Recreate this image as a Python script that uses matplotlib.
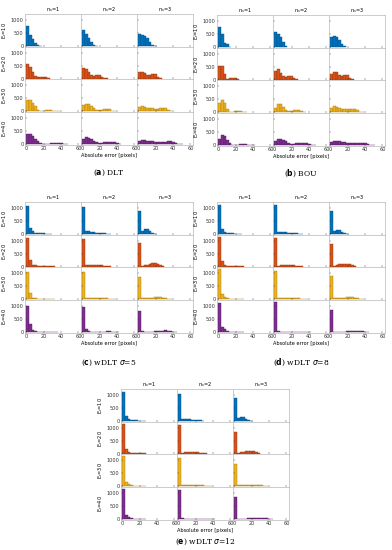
import matplotlib
matplotlib.use("Agg")
from matplotlib import pyplot as plt

# histogram counts, bins of 3 pixels starting at 0
bin_width = 3
noise_levels = ["10", "20", "30", "40"]
samples = ["1", "2", "3"]
colors = ["#0072BD", "#D95319", "#EDB120", "#7E2F8E"]
edges = ["#0a4f80", "#8f3510", "#a87a10", "#52195c"]

dlt = [
    [[780, 430, 280, 110, 20, 5],
     [600, 470, 300, 140, 40, 5],
     [450, 410, 370, 300, 150, 30, 5]],
    [[560, 460, 240, 90, 60, 50, 70, 50, 10],
     [400, 380, 250, 130, 110, 150, 150, 80, 20, 5],
     [250, 270, 220, 150, 150, 170, 190, 60, 10]],
    [[440, 430, 330, 200, 70, 30, 30, 40, 50, 40, 30, 10, 5],
     [260, 290, 270, 200, 120, 60, 50, 70, 90, 100, 80, 30, 10],
     [170, 210, 170, 140, 130, 120, 100, 100, 120, 130, 110, 40, 10]],
    [[370, 380, 320, 200, 100, 40, 20, 20, 20, 40, 50, 30, 25, 30, 20, 5],
     [200, 260, 230, 180, 130, 80, 50, 50, 60, 80, 90, 70, 60, 30, 10],
     [110, 170, 160, 130, 120, 100, 80, 70, 70, 80, 90, 100, 100, 90, 50, 20, 5]],
]

bou = [
    [[760, 500, 160, 100, 10],
     [560, 500, 380, 200, 30],
     [400, 440, 380, 260, 120, 20]],
    [[540, 540, 200, 40, 50, 70, 60, 20],
     [350, 400, 250, 130, 100, 140, 150, 80, 10],
     [220, 300, 280, 180, 150, 170, 180, 80, 10]],
    [[340, 480, 360, 140, 30, 20, 40, 60, 50, 30, 10],
     [180, 330, 320, 200, 80, 50, 70, 90, 100, 80, 40, 10],
     [150, 250, 220, 170, 140, 120, 110, 120, 130, 120, 90, 30, 10]],
    [[250, 380, 330, 200, 80, 20, 10, 20, 30, 40, 30, 20, 20, 10],
     [150, 230, 240, 210, 150, 80, 50, 50, 60, 70, 80, 70, 60, 40, 20, 5],
     [100, 160, 170, 150, 130, 100, 80, 60, 60, 70, 80, 90, 90, 80, 50, 20, 5]],
]

wdlt5 = [
    [[1080, 230, 100, 50, 40, 30, 20, 15, 10, 5],
     [1050, 120, 100, 80, 60, 50, 40, 30, 20, 10, 5],
     [880, 100, 200, 180, 100, 40, 10]],
    [[1100, 260, 80, 50, 40, 30, 30, 20, 15, 10, 5],
     [1050, 60, 60, 60, 60, 80, 70, 50, 30, 20, 10],
     [900, 40, 60, 80, 100, 130, 130, 110, 60, 20]],
    [[1050, 250, 60, 40, 30, 20, 20, 15, 10, 10, 5],
     [1050, 60, 40, 40, 40, 40, 50, 50, 50, 40, 30, 20, 10],
     [850, 40, 40, 50, 60, 70, 80, 80, 80, 70, 50, 20, 10]],
    [[1000, 300, 60, 30, 20, 20, 15, 15, 10, 10, 5, 5],
     [960, 120, 30, 20, 20, 20, 20, 20, 20, 25, 25, 20, 15, 10],
     [820, 30, 20, 20, 20, 20, 25, 30, 40, 50, 60, 50, 40, 20, 10]],
]

wdlt8 = [
    [[1100, 200, 80, 50, 30, 20, 15, 10, 5],
     [1100, 80, 80, 70, 60, 50, 40, 30, 20, 10, 5],
     [880, 100, 170, 170, 90, 30, 10]],
    [[1150, 200, 80, 40, 30, 20, 20, 15, 10, 5],
     [1100, 40, 50, 60, 80, 80, 70, 50, 30, 20, 10],
     [870, 40, 70, 90, 110, 120, 120, 100, 50, 20]],
    [[1150, 220, 90, 40, 30, 20, 15, 10, 10, 5],
     [1100, 40, 40, 40, 40, 40, 40, 40, 40, 40, 30, 20, 10],
     [880, 40, 50, 60, 60, 70, 80, 80, 80, 70, 50, 20, 10]],
    [[1100, 200, 100, 30, 20, 20, 15, 10, 10, 5],
     [1150, 40, 20, 20, 20, 20, 20, 20, 20, 20, 20, 20, 10, 5],
     [850, 20, 20, 20, 20, 20, 25, 30, 40, 50, 50, 40, 30, 20, 10]],
]

wdlt12 = [
    [[1100, 180, 60, 40, 30, 20, 15, 10, 5],
     [1050, 70, 70, 80, 60, 50, 40, 30, 20, 10],
     [870, 100, 160, 170, 90, 30, 10]],
    [[1150, 180, 70, 40, 30, 20, 15, 10, 5],
     [1100, 40, 50, 60, 70, 70, 60, 50, 30, 20, 10],
     [850, 40, 60, 80, 100, 110, 110, 90, 50, 20]],
    [[1150, 180, 80, 40, 30, 20, 15, 10, 5],
     [1100, 40, 40, 40, 40, 40, 40, 40, 40, 40, 30, 20, 10],
     [850, 40, 50, 60, 60, 70, 70, 70, 70, 60, 50, 20, 10]],
    [[1150, 150, 80, 40, 20, 15, 10, 10, 5],
     [1100, 40, 20, 20, 20, 20, 20, 20, 20, 20, 20, 20, 10, 5],
     [850, 20, 20, 20, 20, 25, 30, 30, 40, 50, 50, 40, 30, 20, 10]],
]

W, H = 392, 550
fig = plt.figure(figsize=(W / 100, H / 100), dpi=100)

cell_w, cell_h = 56, 32.7
fs = 3.6


def draw_panel(data, left, top, tag, name, sigma=None, cap_gap=28):
    for r in range(4):
        for c in range(3):
            x0 = left + c * cell_w
            y0 = top + (r + 1) * cell_h
            ax = fig.add_axes([x0 / W, 1 - y0 / H, cell_w / W, cell_h / H])
            counts = data[r][c]
            starts = [i * bin_width for i in range(len(counts))]
            ax.bar(starts, counts, width=bin_width, align="edge",
                   color=colors[r], edgecolor=edges[r], linewidth=0.3)
            ax.set_xlim(-1.5, 63)
            ax.set_ylim(-30, 1230)
            ax.set_xticks([0, 20, 40, 60])
            ax.set_yticks([0, 500, 1000])
            ax.tick_params(direction="in", length=1.2, width=0.3,
                           labelsize=fs, pad=1, colors="#333333")
            for s in ax.spines.values():
                s.set_color("#b8b8b8")
                s.set_linewidth(0.5)
            if c != 0:
                ax.set_yticklabels([])
            else:
                ax.set_ylabel("E$_r$=" + noise_levels[r], fontsize=fs,
                              labelpad=1.5)
            if r != 3:
                ax.set_xticklabels([])
            elif c == 1:
                ax.set_xlabel("Absolute error [pixels]", fontsize=fs,
                              labelpad=1)
            if r == 0:
                ax.set_title("n$_s$=" + samples[c], fontsize=fs, pad=2)
    cx = (left + 1.5 * cell_w) / W
    cy = 1 - (top + 4 * cell_h + cap_gap) / H
    label = "(" + r"$\bf{" + tag + "}$" + ") " + name
    if sigma is not None:
        label += r" $\sigma$=" + sigma
    fig.text(cx, cy, label, ha="center", va="center", fontsize=5.5,
             family="DejaVu Serif")


draw_panel(dlt, 25, 14, "a", "DLT")
draw_panel(bou, 217, 15, "b", "BOU")
draw_panel(wdlt5, 25, 202, "c", "wDLT", "5", cap_gap=30)
draw_panel(wdlt8, 217, 202, "d", "wDLT", "8", cap_gap=30)
draw_panel(wdlt12, 121, 389, "e", "wDLT", "12", cap_gap=22)

fig.savefig("out.png", dpi=100)
